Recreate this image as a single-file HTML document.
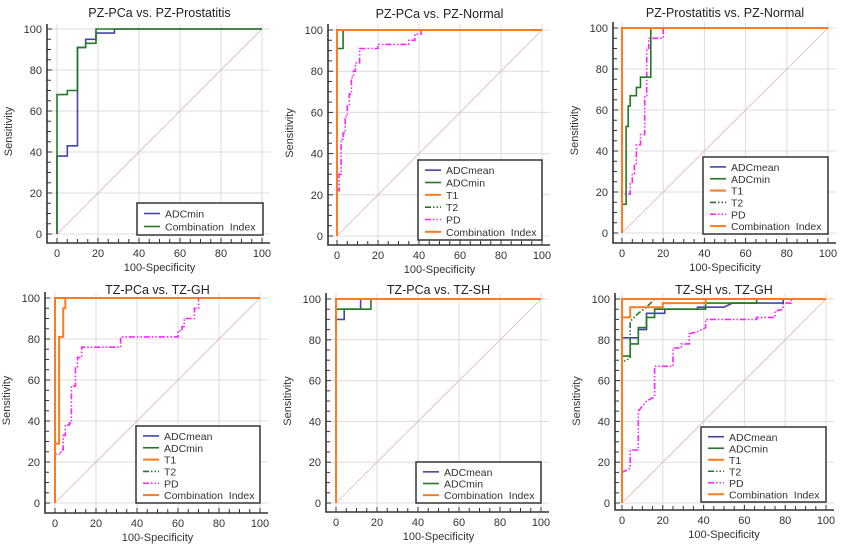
<!DOCTYPE html>
<html><head><meta charset="utf-8">
<style>
html,body{margin:0;padding:0;background:#fff;}
svg{display:block;font-family:"Liberation Sans",sans-serif;}
</style></head>
<body>
<svg id="fig" width="855" height="551" viewBox="0 0 855 551" xmlns="http://www.w3.org/2000/svg"></svg>
<script>
const xTicks = [0,20,40,60,80,100];
const yTicks = [0,20,40,60,80,100];

const p1_adcmin_x = [0,0,5,5,10,10,14,14,19,19,28,28,100];
const p1_adcmin_y = [0,38,38,43,43,91,91,95,95,98,98,100,100];
const p1_comb_x = [0,0,5,5,10,10,14,14,19,19,100];
const p1_comb_y = [0,68,68,70,70,91,91,93,93,100,100];

const p2_adcmin_x = [0,0,3,3,100];
const p2_adcmin_y = [0,91,91,100,100];
const p2_pd_x = [0,0,1,1,2,2,3,3,4,4,5,5,6,6,7,7,8,8,9,9,11,11,20,20,35,35,38,38,41,41,100];
const p2_pd_y = [0,22,22,30,30,47,47,50,50,58,58,63,63,69,69,77,77,80,80,84,84,91,91,93,93,95,95,98,98,100,100];
const p2_t1_x = [0,0,100];
const p2_t1_y = [0,100,100];

const p3_adcmin_x = [0,0,2,2,3,3,4,4,7,7,9,9,14,14,100];
const p3_adcmin_y = [0,14,14,52,52,62,62,67,67,71,71,76,76,100,100];
const p3_pd_x = [0,0,4,4,5,5,6,6,7,7,9,9,11,11,12,12,13,13,20,20,100];
const p3_pd_y = [0,19,19,24,24,29,29,33,33,43,43,48,48,67,67,90,90,95,95,100,100];
const p3_t1_x = [0,0,100];
const p3_t1_y = [0,100,100];

const p4_t1_x = [0,0,2,2,4,4,5,5,100];
const p4_t1_y = [0,29,29,81,81,95,95,100,100];
const p4_pd_x = [0,0,3,3,4,4,5,5,7,7,8,8,10,10,11,11,13,13,32,32,60,60,62,62,63,63,68,68,70,70,100];
const p4_pd_y = [0,24,24,26,26,33,33,38,38,39,39,57,57,66,66,71,71,76,76,81,81,84,84,86,86,90,90,95,95,100,100];
const p4_comb_x = [0,0,100];
const p4_comb_y = [0,100,100];

const p5_adcmean_x = [0,0,4,4,12,12,100];
const p5_adcmean_y = [0,90,90,95,95,100,100];
const p5_adcmin_x = [0,0,17,17,100];
const p5_adcmin_y = [0,95,95,100,100];
const p5_comb_x = [0,0,100];
const p5_comb_y = [0,100,100];

const p6_adcmean_x = [0,0,8,8,12,12,21,21,37,37,50,54,79,79,100];
const p6_adcmean_y = [0,81,81,85,85,93,93,95,95,96,96,98,98,100,100];
const p6_adcmin_x = [0,0,4,4,8,8,12,12,16,16,41,41,66,66,100];
const p6_adcmin_y = [0,72,72,78,78,86,86,91,91,95,95,98,98,100,100];
const p6_t1_x = [0,0,4,4,20,20,41,41,100];
const p6_t1_y = [0,91,91,96,96,98,98,100,100];
const p6_t2_x = [0,0,4,4,8,12,16,100];
const p6_t2_y = [0,69,71,89,93,96,100,100];
const p6_pd_x = [0,0,4,4,8,8,12,16,16,25,25,29,29,33,33,37,41,41,66,66,75,75,79,79,83,83,100];
const p6_pd_y = [0,15,17,26,26,45,50,52,67,67,76,76,78,78,83,84,86,90,90,91,91,94,95,98,98,100,100];
const p6_comb_x = [0,0,100];
const p6_comb_y = [0,100,100];

const C = {blue:'#4545a8', green:'#227a22', orange:'#ff7b22', mag:'#ff22ff'};
const DASHDOT = '6,2,1.5,2,1.5,2';
const CI = 'Combination\u00a0\u00a0Index';

const panels = [
 {name:'pz-pca-vs-pz-prostatitis', title:'PZ-PCa vs. PZ-Prostatitis', tY:17, x0:57,x1:262,yT:29,yB:234,axL:47,axB:243,gR:270,gT:24,
  leg:[137,203,263,235],
  series:[['ADCmin',C.blue,null,p1_adcmin_x,p1_adcmin_y],['Combination Index',C.green,null,p1_comb_x,p1_comb_y]],
  legend:[['ADCmin',C.blue,null],[CI,C.green,null]]},
 {name:'pz-pca-vs-pz-normal', title:'PZ-PCa vs. PZ-Normal', tY:18, x0:337,x1:542,yT:30,yB:236,axL:328,axB:245,gR:550,gT:24,
  leg:[418,160,542,240],
  series:[['PD',C.mag,DASHDOT,p2_pd_x,p2_pd_y],['ADCmin',C.green,null,p2_adcmin_x,p2_adcmin_y],['T1',C.orange,null,p2_t1_x,p2_t1_y]],
  legend:[['ADCmean',C.blue,null],['ADCmin',C.green,null],['T1',C.orange,null],['T2',C.green,DASHDOT],['PD',C.mag,DASHDOT],[CI,C.orange,null]]},
 {name:'pz-prostatitis-vs-pz-normal', title:'PZ-Prostatitis vs. PZ-Normal', tY:17, x0:622,x1:828,yT:28,yB:233,axL:613,axB:243,gR:836,gT:22,
  leg:[703,157,828,234],
  series:[['PD',C.mag,DASHDOT,p3_pd_x,p3_pd_y],['ADCmin',C.green,null,p3_adcmin_x,p3_adcmin_y],['T1',C.orange,null,p3_t1_x,p3_t1_y]],
  legend:[['ADCmean',C.blue,null],['ADCmin',C.green,null],['T1',C.orange,null],['T2',C.green,DASHDOT],['PD',C.mag,DASHDOT],[CI,C.orange,null]]},
 {name:'tz-pca-vs-tz-gh', title:'TZ-PCa vs. TZ-GH', tY:294, x0:55,x1:260,yT:298,yB:503,axL:45,axB:513,gR:268,gT:292,
  leg:[136,426,260,503],
  series:[['PD',C.mag,DASHDOT,p4_pd_x,p4_pd_y],['T1',C.orange,null,p4_t1_x,p4_t1_y],['Combination Index',C.orange,null,p4_comb_x,p4_comb_y]],
  legend:[['ADCmean',C.blue,null],['ADCmin',C.green,null],['T1',C.orange,null],['T2',C.green,DASHDOT],['PD',C.mag,DASHDOT],[CI,C.orange,null]]},
 {name:'tz-pca-vs-tz-sh', title:'TZ-PCa vs. TZ-SH', tY:294, x0:336,x1:541,yT:299,yB:503,axL:326,axB:512,gR:549,gT:293,
  leg:[416,462,541,503],
  series:[['ADCmean',C.blue,null,p5_adcmean_x,p5_adcmean_y],['ADCmin',C.green,null,p5_adcmin_x,p5_adcmin_y],['Combination Index',C.orange,null,p5_comb_x,p5_comb_y]],
  legend:[['ADCmean',C.blue,null],['ADCmin',C.green,null],[CI,C.orange,null]]},
 {name:'tz-sh-vs-tz-gh', title:'TZ-SH vs. TZ-GH', tY:294, x0:622,x1:826,yT:299,yB:503,axL:615,axB:510,gR:834,gT:293,
  leg:[701,427,826,502],
  series:[['PD',C.mag,DASHDOT,p6_pd_x,p6_pd_y],['ADCmean',C.blue,null,p6_adcmean_x,p6_adcmean_y],['ADCmin',C.green,null,p6_adcmin_x,p6_adcmin_y],['T2',C.green,DASHDOT,p6_t2_x,p6_t2_y],['T1',C.orange,null,p6_t1_x,p6_t1_y],['Combination Index',C.orange,null,p6_comb_x,p6_comb_y]],
  legend:[['ADCmean',C.blue,null],['ADCmin',C.green,null],['T1',C.orange,null],['T2',C.green,DASHDOT],['PD',C.mag,DASHDOT],[CI,C.orange,null]]}
];

const NS='http://www.w3.org/2000/svg';
const svg=document.getElementById('fig');
function mk(tag,attrs,parent){const e=document.createElementNS(NS,tag);for(const k in attrs)e.setAttribute(k,attrs[k]);(parent||svg).appendChild(e);return e;}

panels.forEach(p=>{
  const g=mk('g',{});
  
  
  const sx=v=>p.x0+(p.x1-p.x0)*v/100;
  const sy=v=>p.yB-(p.yB-p.yT)*v/100;
  xTicks.forEach(t=>{const l=mk('line',{x1:sx(t),x2:sx(t),y1:p.gT,y2:p.axB,stroke:'#dcdcdc','stroke-width':1},g);
    
    });
  yTicks.forEach(t=>{const l=mk('line',{x1:p.axL,x2:p.gR,y1:sy(t),y2:sy(t),stroke:'#dcdcdc','stroke-width':1},g);
    
    });
  const d=mk('line',{x1:sx(0),y1:sy(0),x2:sx(100),y2:sy(100),stroke:'#e2b4b4','stroke-width':0.8},g);
  
  
  const ax=mk('path',{d:`M${p.axL},${p.gT}V${p.axB}H${p.gR}`,fill:'none',stroke:'#333','stroke-width':1.6},g);
  
  
  for(let t=0;t<=100;t+=5){
    const major=t%20===0;
    mk('line',{x1:p.axL,x2:p.axL+(major?5:4),y1:sy(t),y2:sy(t),stroke:'#333','stroke-width':1},g);
    mk('line',{x1:sx(t),x2:sx(t),y1:p.axB,y2:p.axB-(major?5:4),stroke:'#333','stroke-width':1},g);
  }
  yTicks.forEach(t=>{const tx=mk('text',{x:p.axL-5,y:sy(t)+4,'text-anchor':'end','font-size':11,fill:'#333'},g);tx.textContent=t;
    
    });
  xTicks.forEach(t=>{const tx=mk('text',{x:sx(t),y:p.axB+14,'text-anchor':'middle','font-size':11,fill:'#333'},g);tx.textContent=t;
    
    });
  const ti=mk('text',{x:(p.x0+p.x1)/2,y:p.tY,'text-anchor':'middle','font-size':12.5,fill:'#222'},g);ti.textContent=p.title;
  
  
  const xl=mk('text',{x:(p.x0+p.x1)/2,y:p.axB+28,'text-anchor':'middle','font-size':11,fill:'#333'},g);xl.textContent='100-Specificity';
  
  
  const cy=(p.yT+p.yB)/2, cx=p.axL-35;
  const yl=mk('text',{x:cx,y:cy,'text-anchor':'middle','font-size':11,fill:'#333',transform:`rotate(-90 ${cx} ${cy})`},g);yl.textContent='Sensitivity';
  
  
  p.series.forEach(s=>{
    const xs=s[3], ys=s[4];
    const pts=xs.map((x,i)=>sx(x).toFixed(1)+','+sy(ys[i]).toFixed(1)).join(' ');
    const a={points:pts,fill:'none',stroke:s[1],'stroke-width':(s[1]===C.orange?2:1.6)};
    if(s[2])a['stroke-dasharray']=s[2];
    const pl=mk('polyline',a,g);
    
    
  });
  const [lx0,ly0,lx1,ly1]=p.leg;
  const lg=mk('g',{},g);
  
  
  mk('rect',{x:lx0,y:ly0,width:lx1-lx0,height:ly1-ly0,fill:'#fff',stroke:'#333','stroke-width':1.5},lg);
  const n=p.legend.length, step=(ly1-ly0-6)/n;
  p.legend.forEach((e,i)=>{
    const yy=ly0+4+step*(i+0.5);
    const la={x1:lx0+7,x2:lx0+23,y1:yy,y2:yy,stroke:e[1],'stroke-width':(e[1]===C.orange?2:1.6)};
    if(e[2])la['stroke-dasharray']=e[2];
    mk('line',la,lg);
    const t=mk('text',{x:lx0+28,y:yy+4,'font-size':10.5,fill:'#333'},lg);t.textContent=e[0];
    
    
  });
});
</script>
</body></html>
